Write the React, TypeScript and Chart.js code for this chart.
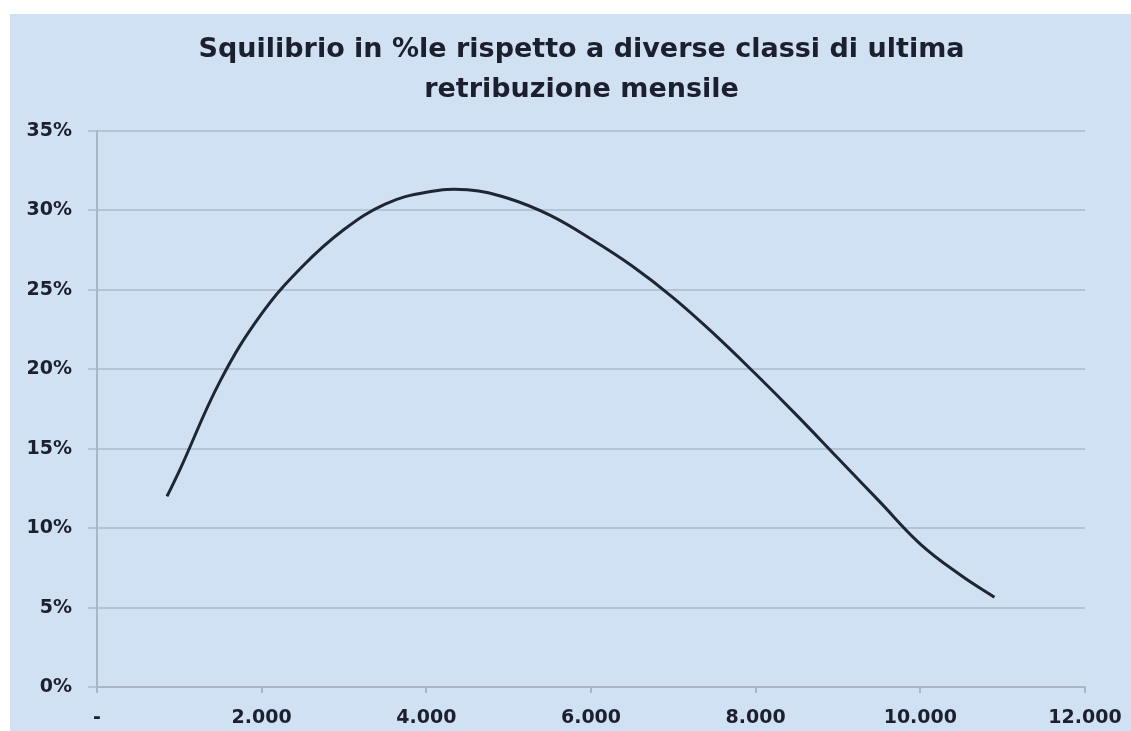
import React, { useEffect, useRef } from "react";
import { Chart, registerables } from "chart.js";

Chart.register(...registerables);

const titleLines = ["Squilibrio in %le rispetto a diverse classi di ultima", "retribuzione mensile"];
const retribuzione = [850, 1000, 1500, 2000, 2500, 3000, 3500, 4000, 4500, 5000, 5500, 6000, 6500, 7000, 7500, 8000, 8500, 9000, 9500, 10000, 10500, 10900];
const squilibrio = [12.0, 13.6, 19.3, 23.5, 26.5, 28.8, 30.4, 31.15, 31.3, 30.75, 29.7, 28.2, 26.5, 24.5, 22.2, 19.7, 17.1, 14.4, 11.7, 9.0, 7.0, 5.65];
const xTickStep = 2000;
const yTickStep = 5;

const FONT = "'DejaVu Sans', sans-serif";
const TEXT = "#1c1f2e";
const GRID = "#b2c4d8";
const AXIS = "#a8b6c6";
const BG = "#d0e1f3";

function fmtThousands(v: number): string {
  if (v === 0) return "-";
  return String(Math.round(v)).replace(/\B(?=(\d{3})+(?!\d))/g, ".");
}

export default function App() {
  const ref = useRef<HTMLCanvasElement | null>(null);

  useEffect(() => {
    document.body.style.margin = "0";
    const canvas = ref.current;
    if (!canvas) return;
    const data = retribuzione.map((x, i) => ({ x, y: squilibrio[i] }));
    const chart = new Chart(canvas, {
      type: "line",
      data: {
        datasets: [
          {
            data,
            borderColor: "#1e2633",
            borderWidth: 3,
            pointRadius: 0,
            tension: 0.4,
            fill: false,
          },
        ],
      },
      options: {
        responsive: false,
        animation: false,
        layout: { padding: { left: 0, right: -22, top: 0, bottom: 0 } },
        plugins: {
          legend: { display: false },
          tooltip: { enabled: false },
          title: {
            display: true,
            text: titleLines,
            color: TEXT,
            font: { family: FONT, size: 27, weight: "bold", lineHeight: 40 / 27 },
            padding: { top: 16, bottom: 21 },
          },
        },
        scales: {
          x: {
            type: "linear",
            min: 0,
            max: 12000,
            afterFit: (s: any) => {
              s.height = 44;
              s.paddingRight = 46;
            },
            ticks: {
              stepSize: xTickStep,
              color: TEXT,
              font: { family: FONT, size: 19, weight: "bold" },
              padding: 14,
              maxRotation: 0,
              callback: (v: any) => fmtThousands(Number(v)),
            },
            grid: { drawOnChartArea: false, drawTicks: true, tickLength: 6, color: AXIS, lineWidth: 2 },
            border: { display: true, color: AXIS, width: 2 },
          },
          y: {
            min: 0,
            max: 35,
            afterFit: (s: any) => {
              s.width = 87;
            },
            ticks: {
              stepSize: yTickStep,
              color: TEXT,
              font: { family: FONT, size: 19, weight: "bold" },
              padding: 16,
              callback: (v: any) => `${v}%`,
            },
            grid: { color: GRID, lineWidth: 2, tickLength: 9 },
            border: { display: true, color: AXIS, width: 2 },
          },
        },
      },
    });
    return () => chart.destroy();
  }, []);

  return (
    <div style={{ position: "relative", width: 1131, height: 731, background: "#ffffff", overflow: "hidden" }}>
      <div style={{ position: "absolute", left: 10, top: 14, width: 1121, height: 717, background: BG }}>
        <canvas ref={ref} width={1121} height={717} style={{ display: "block" }} />
      </div>
    </div>
  );
}
